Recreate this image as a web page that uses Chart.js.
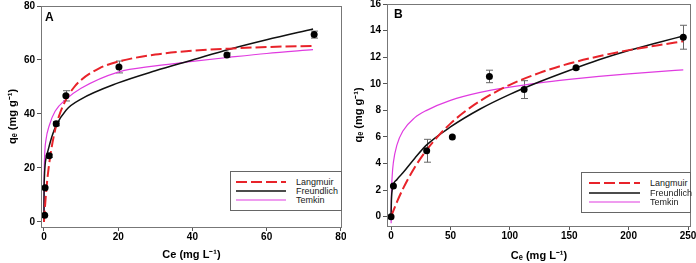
<!DOCTYPE html>
<html>
<head>
<meta charset="utf-8">
<script src="https://cdn.jsdelivr.net/npm/chart.js@4.4.1/dist/chart.umd.min.js"></script>
<style>
  body { margin: 0; background: #fff; width: 696px; height: 263px; position: relative; overflow: hidden;
         font-family: "Liberation Sans", Arial, sans-serif; }
  canvas { position: absolute; top: 0; }
  .tag { position: absolute; font-weight: bold; font-size: 12px; line-height: 12px; color: #000; }
  .legend { position: absolute; border: 1px solid #666; background: #fff; box-sizing: border-box; }
  .legend .row { position: absolute; left: 0; right: 0; height: 10px; }
  .legend svg { position: absolute; top: 0; }
  .legend span { position: absolute; font-size: 9px; line-height: 10px; color: #222; }
</style>
</head>
<body>
<canvas id="chartA" width="346" height="263" style="left:0"></canvas>
<canvas id="chartB" width="350" height="263" style="left:346px"></canvas>
<div class="tag" style="left:45px;top:11px">A</div>
<div class="tag" style="left:394px;top:8px">B</div>
<div id="legA" class="legend" style="left:230px;top:171px;width:112px;height:40px"></div>
<div id="legB" class="legend" style="left:581px;top:172px;width:110px;height:41px"></div>

<script>
// ---- Panel A : experimental points ----
const ceA = [0.2, 0.3, 1.4, 3.3, 5.9, 20.2, 49.3, 72.8];
const qeA = [2.5, 12.6, 24.5, 36.4, 46.7, 57.4, 61.8, 69.4];
const errA = [0, 0, 0.6, 0.8, 1.9, 2.2, 0.8, 1.3];

// ---- Panel A : model curves ----
const langXA = [0, 0.25, 0.5, 1, 2, 3, 4, 6, 8, 10, 15, 20, 30, 40, 50, 60, 72.5];
const langYA = [0, 5.2, 9.7, 17, 27, 34, 39, 45.5, 49.7, 52.6, 57, 59.4, 62, 63.4, 64.2, 64.8, 65.2];
const freuXA = [0, 0.02, 0.1, 0.3, 0.6, 1, 2, 3.2, 6, 10, 20, 30, 40, 50, 60, 72.5];
const freuYA = [0, 10, 16, 21, 24, 26, 31, 35.5, 41.5, 45.5, 51.5, 56, 60, 64, 67.5, 71.5];
const temkXA = [0.003, 0.01, 0.05, 0.2, 0.5, 1.5, 3, 6, 10, 20, 30, 40, 50, 60, 72.5];
const temkYA = [0, 6, 16, 25, 30, 36, 41, 45.5, 49.5, 55.5, 57.8, 59.5, 61, 62.4, 63.8];

const xTicksA = [0, 20, 40, 60, 80];
const yTicksA = [0, 20, 40, 60, 80];

// ---- Panel B : experimental points ----
const ceB = [0, 2, 30, 51.6, 82.8, 112, 155.7, 246];
const qeB = [0, 2.3, 4.96, 6.0, 10.55, 9.56, 11.2, 13.5];
const errB = [0, 0, 0.86, 0, 0.47, 0.67, 0.1, 0.9];

// ---- Panel B : model curves ----
const langXB = [0, 5, 10, 20, 30, 40, 50, 60, 75, 100, 125, 150, 175, 200, 225, 246];
const langYB = [0, 1.11, 2.09, 3.72, 5.03, 6.1, 7.0, 7.76, 8.71, 9.92, 10.82, 11.52, 12.07, 12.53, 12.9, 13.2];
const freuXB = [0, 0.3, 1.5, 5, 10, 20, 30, 50, 75, 100, 125, 150, 175, 200, 225, 246];
const freuYB = [0, 1.2, 2.2, 2.8, 3.3, 4.4, 5.4, 6.75, 8.1, 9.2, 10.15, 11.0, 11.8, 12.5, 13.1, 13.6];
const temkXB = [0.08, 0.3, 1, 2, 5, 10, 20, 30, 50, 75, 100, 125, 150, 175, 200, 225, 246];
const temkYB = [-0.5, 1.4, 3.1, 4.1, 5.4, 6.45, 7.45, 8.0, 8.75, 9.35, 9.75, 10.07, 10.33, 10.56, 10.75, 10.92, 11.05];

const xTicksB = [0, 50, 100, 150, 200, 250];
const yTicksB = [0, 2, 4, 6, 8, 10, 12, 14, 16];

const pts = (xs, ys) => xs.map((x, i) => ({ x: x, y: ys[i] }));

// draws error bars and the plot frame
const extrasPlugin = {
  id: 'extras',
  beforeDatasetsDraw(chart) {
    const ctx = chart.ctx;
    const xs = chart.scales.x, ys = chart.scales.y;
    chart.data.datasets.forEach(ds => {
      if (!ds.errors) return;
      ctx.save();
      ctx.strokeStyle = '#666';
      ctx.lineWidth = 1;
      ds.data.forEach((p, i) => {
        const e = ds.errors[i];
        if (!e) return;
        const px = Math.round(xs.getPixelForValue(p.x)) + 0.5;
        const top = ys.getPixelForValue(p.y + e);
        const bot = ys.getPixelForValue(p.y - e);
        ctx.beginPath();
        ctx.moveTo(px, top); ctx.lineTo(px, bot);
        ctx.moveTo(px - 3.5, top); ctx.lineTo(px + 3.5, top);
        ctx.moveTo(px - 3.5, bot); ctx.lineTo(px + 3.5, bot);
        ctx.stroke();
      });
      ctx.restore();
    });
  },
  afterDraw(chart) {
    const a = chart.chartArea, ctx = chart.ctx;
    ctx.save();
    ctx.strokeStyle = '#777';
    ctx.lineWidth = 1;
    ctx.strokeRect(Math.round(a.left) + 0.5, Math.round(a.top) + 0.5,
                   Math.round(a.right - a.left) - 1, Math.round(a.bottom - a.top));
    ctx.restore();
  }
};

function makeChart(id, cfg) {
  const tickFont = { family: 'Liberation Sans', size: 10, weight: 'bold' };
  const titleFont = { family: 'Liberation Sans', size: 11, weight: 'bold' };
  return new Chart(document.getElementById(id), {
    type: 'scatter',
    data: {
      datasets: [
        { label: 'data', data: pts(cfg.ce, cfg.qe), errors: cfg.err, order: 0,
          backgroundColor: '#000', borderColor: '#000', pointRadius: 3.5, pointBorderWidth: 0,
          showLine: false },
        { label: 'Langmuir', data: pts(cfg.lang[0], cfg.lang[1]), order: 1, showLine: true,
          borderColor: '#e8232a', borderWidth: 2, borderDash: [11, 4], pointRadius: 0,
          cubicInterpolationMode: 'monotone' },
        { label: 'Freundlich', data: pts(cfg.freu[0], cfg.freu[1]), order: 1, showLine: true,
          borderColor: '#111', borderWidth: 1.5, pointRadius: 0, cubicInterpolationMode: 'monotone' },
        { label: 'Temkin', data: pts(cfg.temk[0], cfg.temk[1]), order: 1, showLine: true,
          borderColor: '#e03be0', borderWidth: 1.2, pointRadius: 0, cubicInterpolationMode: 'monotone' }
      ]
    },
    options: {
      responsive: false,
      animation: false,
      layout: { padding: cfg.pad },
      plugins: { legend: { display: false }, tooltip: { enabled: false } },
      scales: {
        x: {
          type: 'linear', min: cfg.xr[0], max: cfg.xr[1],
          afterBuildTicks: s => { s.ticks = cfg.xt.map(v => ({ value: v })); },
          afterFit: s => { s.height = cfg.xh; s.paddingLeft = 0; s.paddingRight = 0; },
          grid: { drawOnChartArea: false, drawTicks: true, tickLength: 4, color: '#555' },
          border: { display: false },
          ticks: { font: tickFont, color: '#000', padding: 0, maxRotation: 0 },
          title: { display: true, text: cfg.xTitle, font: titleFont, color: '#000',
                   padding: { top: 0, bottom: cfg.xtp } }
        },
        y: {
          type: 'linear', min: cfg.yr[0], max: cfg.yr[1],
          afterBuildTicks: s => { s.ticks = cfg.yt.map(v => ({ value: v })); },
          afterFit: s => { s.width = 41; s.paddingTop = 0; s.paddingBottom = 0; },
          grid: { drawOnChartArea: false, drawTicks: true, tickLength: 4, color: '#555' },
          border: { display: false },
          ticks: { font: tickFont, color: '#000', padding: 2 },
          title: { display: true, text: 'q\u2091 (mg g\u207B\u00B9)', font: titleFont, color: '#000',
                   padding: { top: 6, bottom: 0 } }
        }
      }
    },
    plugins: [extrasPlugin]
  });
}

function buildLegend(chart, el, geo) {
  chart.data.datasets.slice(1).forEach((ds, i) => {
    const row = document.createElement('div');
    row.className = 'row';
    row.style.top = (geo.rows[i] - 5) + 'px';
    const dash = ds.borderDash ? ds.borderDash.join(',') : 'none';
    row.innerHTML =
      `<svg width="${geo.x1}" height="10" style="left:0">` +
      `<line x1="${geo.x0}" y1="5" x2="${geo.x1}" y2="5" stroke="${ds.borderColor}" ` +
      `stroke-width="${ds.borderWidth}" stroke-dasharray="${dash}"/></svg>` +
      `<span style="left:${geo.tx}px">${ds.label}</span>`;
    el.appendChild(row);
  });
}

const chartA = makeChart('chartA', {
  ce: ceA, qe: qeA, err: errA,
  lang: [langXA, langYA], freu: [freuXA, freuYA], temk: [temkXA, temkYA],
  xr: [-0.8, 80.3], yr: [-1.9, 80], xt: xTicksA, yt: yTicksA,
  xTitle: 'Ce (mg L\u207B\u00B9)', xh: 36, xtp: 1.5,
  pad: { left: 0, right: 4, top: 6, bottom: 0 }
});
const chartB = makeChart('chartB', {
  ce: ceB, qe: qeB, err: errB,
  lang: [langXB, langYB], freu: [freuXB, freuYB], temk: [temkXB, temkYB],
  xr: [-3.4, 252.5], yr: [-0.7, 16], xt: xTicksB, yt: yTicksB,
  xTitle: 'C\u2091 (mg L\u207B\u00B9)', xh: 37, xtp: 0.5,
  pad: { left: 0, right: 5, top: 3, bottom: 0 }
});

buildLegend(chartA, document.getElementById('legA'), { x0: 5, x1: 55, tx: 65, rows: [10, 19, 28] });
buildLegend(chartB, document.getElementById('legB'), { x0: 7, x1: 58, tx: 68, rows: [10, 20, 29] });
</script>
</body>
</html>
